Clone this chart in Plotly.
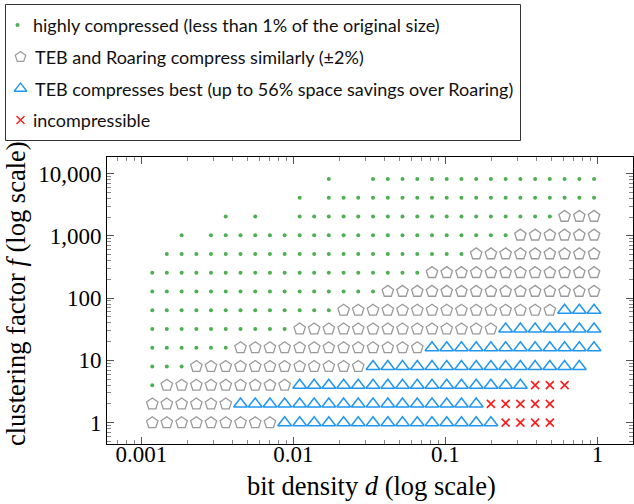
import plotly.graph_objects as go

# bit density d (columns) and clustering factor f (rows)
densities = [0.00118, 0.00147, 0.00184, 0.00230, 0.00287, 0.00359, 0.00449, 0.00561,
             0.00701, 0.00876, 0.0110, 0.0137, 0.0171, 0.0214, 0.0267, 0.0334,
             0.0418, 0.0522, 0.0653, 0.0816, 0.1020, 0.1275, 0.1594, 0.1992,
             0.2490, 0.3113, 0.3891, 0.4864, 0.608, 0.76, 0.95]
factors = [8192, 4096, 2048, 1024, 512, 256, 128, 64, 32, 16, 8, 4, 2, 1]

# category per (row, column): h = highly compressed, p = similar, t = TEB best, x = incompressible
grid = [
    "            h  hhhhhhhhhhhhhhhh",
    "          h hhhhhhhhhhhhhhhhhhh",
    "     h h  hhhhhhhhhhhhhhhhhhppp",
    "  h hhhhhhhhhhhhhhhhhhhhhpppppp",
    " hhhhhhhhhhhhhhhhhhhhhppppppppp",
    "hhhhhhhhhhhhhhhhhhhpppppppppppp",
    "hhhhhhhhhhhhhhhhpppppppppppppppt",
    "hhhhhhhhhhhhhppppppppppppppptttt",
    "hhhhhhhhhhppppppppppppppttttttt",
    "hhhhhhpppppppppppppttttttttttttt",
    "hhhppppppppppppttttttttttttttt ",
    "hpppppppppttttttttttttttttxxx ",
    "pppppptttttttttttttttttxxxxx  ",
    "ppppppppptttttttttttttttxxxx   ",
]

categories = ["h", "p", "t", "x"]
names = [
    "highly compressed (less than 1% of the original size)",
    "TEB and Roaring compress similarly (±2%)",
    "TEB compresses best (up to 56% space savings over Roaring)",
    "incompressible",
]
x_title = "bit density <i>d</i> (log scale)"
y_title = "clustering factor <i>f</i> (log scale)"
x_ticks = [0.001, 0.01, 0.1, 1]
x_ticktext = ["0.001", "0.01", "0.1", "1"]
y_ticks = [1, 10, 100, 1000, 10000]
y_ticktext = ["1", "10", "100", "1,000", "10,000"]

GREEN, GRAY, BLUE, RED = "#4caf50", "#9a9a9a", "#2196f3", "#ff1a1a"
styles = {
    "h": dict(symbol="circle", size=4, color=GREEN, line=dict(width=0)),
    "p": dict(symbol="pentagon-open", size=12, color=GRAY, line=dict(width=1.3, color=GRAY)),
    "t": dict(symbol="triangle-up-open", size=12, color=BLUE, line=dict(width=1.5, color=BLUE)),
    "x": dict(symbol="x-thin-open", size=8, color=RED, line=dict(width=1.6, color=RED)),
}
legend_styles = {
    "h": dict(symbol="circle", size=4, color=GREEN, line=dict(width=0)),
    "p": dict(symbol="pentagon-open", size=11, color=GRAY, line=dict(width=1.2, color=GRAY)),
    "t": dict(symbol="triangle-up-open", size=11, color=BLUE, line=dict(width=1.3, color=BLUE)),
    "x": dict(symbol="x-thin-open", size=8, color=RED, line=dict(width=1.4, color=RED)),
}

W, H = 634, 504
PLOT_L, PLOT_R, PLOT_T, PLOT_B = 107, 633, 157, 444

fig = go.Figure()
for cat, name in zip(categories, names):
    xs, ys = [], []
    for f, row in zip(factors, grid):
        for k, c in enumerate(row[:len(densities)]):
            if c == cat:
                xs.append(densities[k])
                ys.append(f)
    fig.add_trace(go.Scatter(x=xs, y=ys, mode="markers", name=name, marker=styles[cat],
                             showlegend=False, xaxis="x", yaxis="y"))

# manual legend (pixel-coordinate overlay axes)
leg_rows_y = [25, 57, 88.5, 120]
for i, (cat, name) in enumerate(zip(categories, names)):
    fig.add_trace(go.Scatter(x=[20.5 if cat != "h" else 17.5], y=[leg_rows_y[i]], mode="markers",
                             marker=legend_styles[cat], showlegend=False, hoverinfo="skip",
                             xaxis="x2", yaxis="y2"))
    fig.add_annotation(x=31 if cat in ("h", "x") else 32.5, y=leg_rows_y[i], xref="x2", yref="y2",
                       text=name, showarrow=False, xanchor="left", yanchor="middle",
                       font=dict(family="Lato", size=18, color="#111"))
fig.add_shape(type="rect", xref="x2", yref="y2", x0=5.5, x1=520.5, y0=4.5, y1=140.5,
              line=dict(color="#333", width=1), fillcolor="rgba(0,0,0,0)")

# axis titles
fig.add_annotation(x=371 / W, y=(PLOT_B - 486) / PLOT_B, xref="paper", yref="paper",
                   text=x_title, showarrow=False, xanchor="center", yanchor="middle",
                   font=dict(family="Liberation Serif", size=26.5, color="black"))
fig.add_annotation(x=16 / W, y=(PLOT_B - 294) / PLOT_B, xref="paper", yref="paper",
                   text=y_title, showarrow=False, xanchor="center", yanchor="middle", textangle=-90,
                   font=dict(family="Liberation Serif", size=26.5, color="black"))

minor_x = [m * 10.0 ** e for e in range(-4, 1) for m in range(2, 10)]
minor_y = [m * 10.0 ** e for e in range(-1, 5) for m in range(2, 10)]

axis_common = dict(
    type="log", showgrid=False, zeroline=False, showline=True, linecolor="black", linewidth=1,
    mirror="allticks", ticks="inside", ticklen=7, tickcolor="#555", automargin=False,
    tickfont=dict(family="Liberation Serif", size=23, color="black"),
)

fig.update_layout(
    width=W, height=H,
    margin=dict(l=0, r=0, t=0, b=H - PLOT_B),
    paper_bgcolor="white", plot_bgcolor="rgba(0,0,0,0)",
    showlegend=False,
    xaxis=dict(
        **axis_common, domain=[PLOT_L / W, PLOT_R / W], range=[-3.226, 0.234],
        tickmode="array", tickvals=x_ticks, ticktext=x_ticktext, ticklabelstandoff=-11,
        minor=dict(tickmode="array", tickvals=minor_x, ticks="inside", ticklen=4, tickcolor="#888"),
    ),
    yaxis=dict(
        **axis_common, domain=[0, (PLOT_B - PLOT_T) / PLOT_B], range=[-0.342, 4.265],
        tickmode="array", tickvals=y_ticks, ticktext=y_ticktext, ticklabelstandoff=0,
        minor=dict(tickmode="array", tickvals=minor_y, ticks="inside", ticklen=4, tickcolor="#888"),
    ),
    xaxis2=dict(domain=[0, 1], range=[0, W], visible=False, fixedrange=True),
    yaxis2=dict(domain=[0, 1], range=[PLOT_B, 0], visible=False, fixedrange=True),
)

fig.write_html(
    "out.html",
    config={"displayModeBar": False},
    post_script="document.body.style.margin='0';document.body.style.overflow='hidden';",
)
